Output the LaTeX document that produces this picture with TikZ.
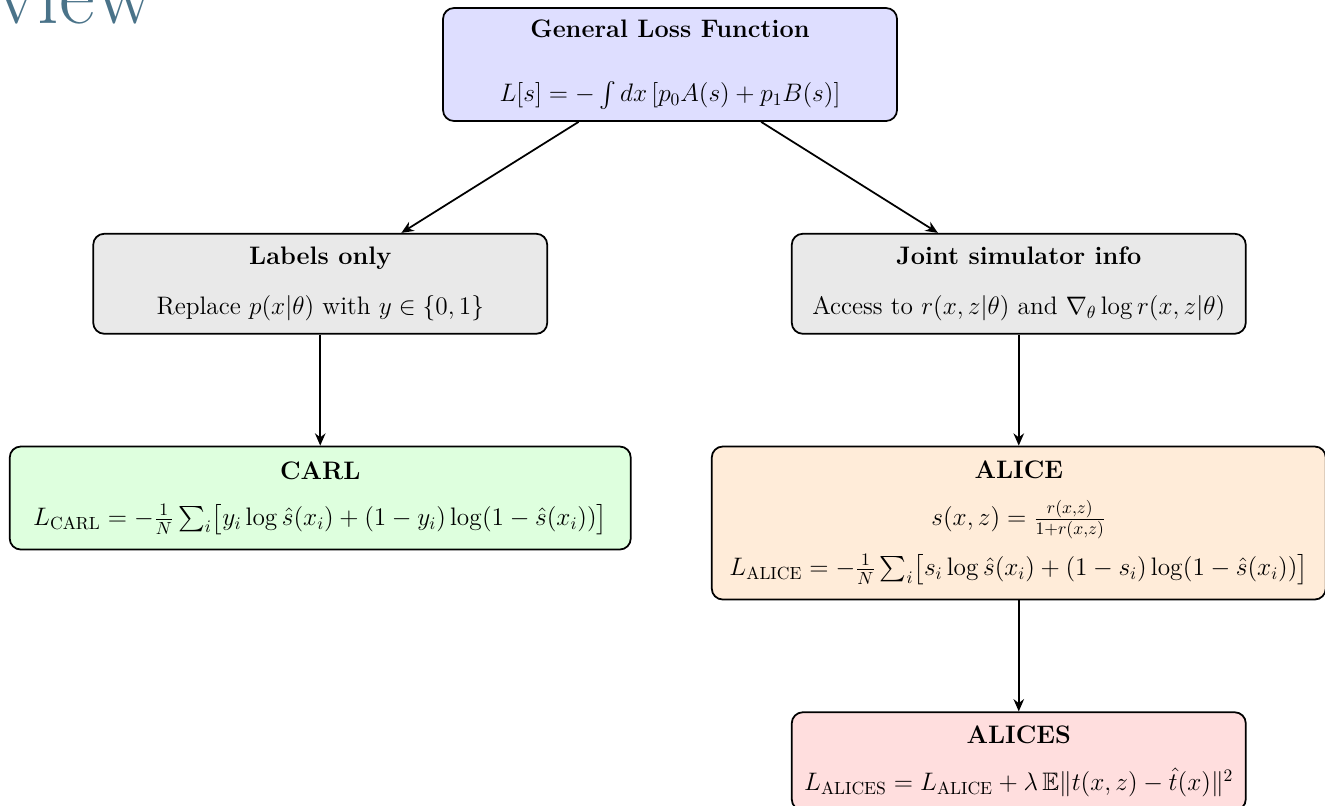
\documentclass[tikz,border=0pt]{standalone}
\usepackage{amsmath,amssymb}
\usepackage{xcolor}
\usetikzlibrary{arrows.meta,positioning}
\definecolor{titleteal}{RGB}{74,115,137}

\begin{document}
\begin{tikzpicture}[
        font=\Large,
        >={Stealth[length=7pt,width=6pt]},
        node distance=2.22cm,
        box/.style={rectangle,draw,line width=1pt,rounded corners=0.22cm,minimum width=9.08cm,minimum height=2cm,align=center},
        arrow/.style={->,line width=1pt}
    ]
        \useasboundingbox (0,0) rectangle (26.5,-16.1);
        \node[anchor=base west,inner sep=0pt,text=titleteal,font=\fontsize{50}{56}\selectfont] (heading) at (-0.1,-0.46) {view};

        \node[box,fill=blue!13,minimum height=2.26cm] (loss) at (13.4,-1.29) {\textbf{General Loss Function}\\[0.65cm] $L[s] = -\int dx\,[p_0A(s)+p_1B(s)]$};
        \node[box,fill=gray!17,below left=2.22cm and -2.12cm of loss] (labels) {\textbf{Labels only}\\[0.38cm] Replace $p(x|\theta)$ with $y\in\{0,1\}$};
        \node[box,fill=gray!17,below right=2.22cm and -2.14cm of loss] (joint) {\textbf{Joint simulator info}\\[0.38cm] Access to $r(x,z|\theta)$ and $\nabla_\theta\log r(x,z|\theta)$};
        \node[box,fill=green!13,minimum width=12.42cm,minimum height=2.06cm,below=of labels] (carl) {\textbf{CARL}\\[0.3cm] $L_{\mathrm{CARL}} = -\frac{1}{N}\sum_i \bigl[y_i\log\hat{s}(x_i)+(1-y_i)\log(1-\hat{s}(x_i))\bigr]$};
        \node[box,fill=orange!15,minimum width=12.28cm,minimum height=3.06cm,below=of joint] (alice) {\textbf{ALICE}\\[0.3cm] $s(x,z) = \frac{r(x,z)}{1+r(x,z)}$\\[0.28cm] $L_{\mathrm{ALICE}} = -\frac{1}{N}\sum_i \bigl[s_i\log\hat{s}(x_i)+(1-s_i)\log(1-\hat{s}(x_i))\bigr]$};
        \node[box,fill=red!13,minimum height=1.96cm,below=of alice] (alices) {\textbf{ALICES}\\[0.3cm] $L_{\mathrm{ALICES}} = L_{\mathrm{ALICE}}+\lambda\,\mathbb{E}\|t(x,z)-\hat{t}(x)\|^2$};

        \draw[arrow] (loss) -- (labels);
        \draw[arrow] (loss) -- (joint);
        \draw[arrow] (labels) -- (carl);
        \draw[arrow] (joint) -- (alice);
        \draw[arrow] (alice) -- (alices);
    \end{tikzpicture}
\end{document}
